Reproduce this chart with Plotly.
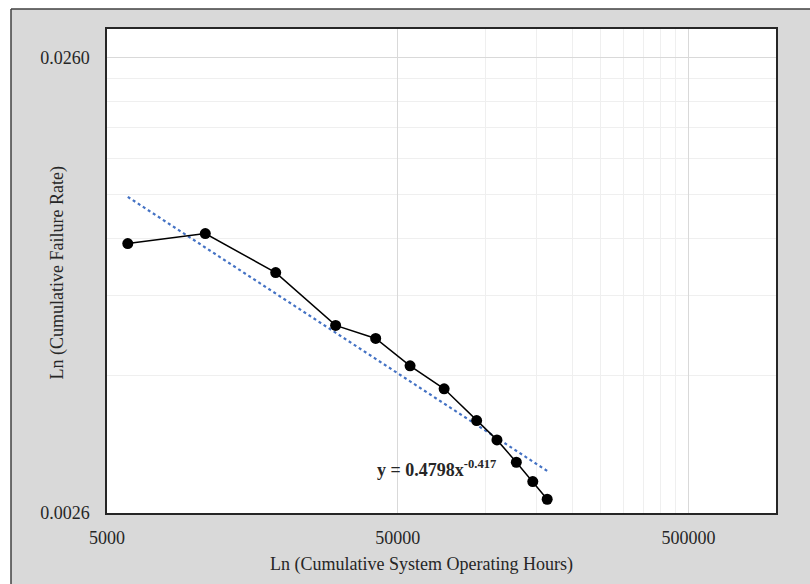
import numpy as np
import plotly.graph_objects as go

# Data
hours = [5894, 10890, 19020, 30570, 41990, 55130, 72200, 93400, 109700, 127900, 145700, 163300]
failure_rate = [0.010143, 0.010671, 0.008760, 0.006708, 0.006282, 0.005471, 0.004870,
                0.004148, 0.003762, 0.003360, 0.003047, 0.002787]

# Power trendline displayed on the chart: y = a * x^b
trend_a = 0.4798
trend_b = -0.417

x_tickvals = [5000, 50000, 500000]
x_ticktext = ["5000", "50000", "500000"]
y_tickvals = [0.0026, 0.026]
y_ticktext = ["0.0026", "0.0260"]
x_minor = [100000, 150000, 200000, 250000, 300000, 350000, 400000, 450000]
y_minor = [0.0026 * k for k in range(2, 10)]

W, H = 810, 584
L, R, T, B = 107, 776, 29, 513
pw, ph = R - L, B - T

def px(xp):
    return (xp - L) / pw

def py(yp):
    return (B - yp) / ph

trend_x = [hours[0], hours[-1]]
trend_y = [trend_a * v ** trend_b for v in trend_x]

fig = go.Figure()
fig.add_trace(go.Scatter(
    x=trend_x, y=trend_y, mode="lines",
    line=dict(color="#4472C4", width=2.2, dash="dot"),
    showlegend=False, hoverinfo="skip"))
fig.add_trace(go.Scatter(
    x=hours, y=failure_rate, mode="lines+markers",
    line=dict(color="#000000", width=1.5),
    marker=dict(color="#000000", size=11),
    showlegend=False))

font_fam = "Liberation Serif, Times New Roman, serif"

fig.update_layout(
    width=W, height=H,
    margin=dict(l=L, r=W - R, t=T, b=H - B),
    paper_bgcolor="#d9d9d9",
    plot_bgcolor="#ffffff",
    font=dict(family=font_fam, size=18, color="#262626"),
    xaxis=dict(
        type="log", range=[np.log10(5000), 6],
        tickvals=x_tickvals, ticktext=x_ticktext,
        showgrid=True, gridcolor="#d9d9d9", gridwidth=1,
        minor=dict(tickvals=x_minor, showgrid=True, gridcolor="#efefef", gridwidth=1, ticks=""),
        showline=True, mirror=True, linecolor="#262626", linewidth=1.5,
        ticks="", zeroline=False, ticklabelstandoff=8,
        tickfont=dict(size=18, family=font_fam, color="#262626"),
    ),
    yaxis=dict(
        type="log", range=[np.log10(0.0026), np.log10(0.03)],
        tickvals=y_tickvals, ticktext=y_ticktext,
        showgrid=True, gridcolor="#d9d9d9", gridwidth=1,
        minor=dict(tickvals=y_minor, showgrid=True, gridcolor="#efefef", gridwidth=1, ticks=""),
        showline=True, mirror=True, linecolor="#262626", linewidth=1.5,
        ticks="", zeroline=False, ticklabelstandoff=12,
        tickfont=dict(size=18, family=font_fam, color="#262626"),
    ),
    shapes=[
        # white strips outside the chart area border
        dict(type="rect", xref="paper", yref="paper", layer="above",
             x0=px(-5), x1=px(11), y0=py(600), y1=py(-5),
             fillcolor="#ffffff", line=dict(width=0)),
        dict(type="rect", xref="paper", yref="paper", layer="above",
             x0=px(-5), x1=px(830), y0=py(9), y1=py(-5),
             fillcolor="#ffffff", line=dict(width=0)),
        # chart area border
        dict(type="line", xref="paper", yref="paper", layer="above",
             x0=px(11), x1=px(830), y0=py(9), y1=py(9),
             line=dict(color="#404040", width=1.5)),
        dict(type="line", xref="paper", yref="paper", layer="above",
             x0=px(11), x1=px(11), y0=py(9), y1=py(600),
             line=dict(color="#404040", width=1.5)),
    ],
    annotations=[
        dict(text="Ln (Cumulative System Operating Hours)", xref="paper", yref="paper",
             x=px(421.5), y=py(564), xanchor="center", yanchor="middle", showarrow=False,
             font=dict(size=18, family=font_fam, color="#262626")),
        dict(text="Ln (Cumulative Failure Rate)", xref="paper", yref="paper",
             x=px(57), y=py(273.5), xanchor="center", yanchor="middle", textangle=-90,
             showarrow=False, font=dict(size=18, family=font_fam, color="#262626")),
        dict(text="<b>y = 0.4798x<sup>-0.417</sup></b>", xref="paper", yref="paper",
             x=px(375), y=py(468), xanchor="left", yanchor="middle", showarrow=False,
             font=dict(size=18, family=font_fam, color="#262626")),
    ],
)

fig.write_html("out.html")
